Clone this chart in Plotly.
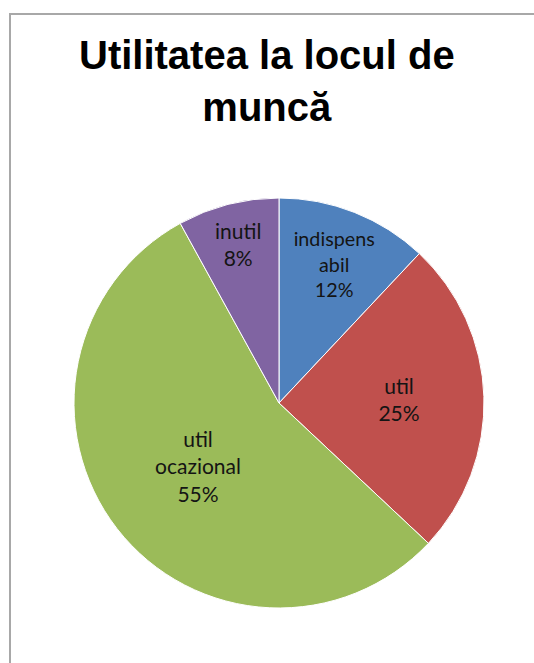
import plotly.graph_objects as go

labels = ["indispensabil", "util", "util ocazional", "inutil"]
label_text = ["indispens<br>abil", "util", "util<br>ocazional", "inutil"]
values = [12, 25, 55, 8]
colors = ["#4F81BD", "#C0504D", "#9BBB59", "#8064A2"]
title_text = "<b>Utilitatea la locul de<br>muncă</b>"

W, H = 534, 663
cx, cy, R = 279, 403, 205

fig = go.Figure(go.Pie(
    labels=labels,
    values=values,
    customdata=label_text,
    texttemplate="%{customdata}<br>%{percent:.0%}",
    textposition="inside",
    insidetextorientation="horizontal",
    textfont=dict(family="Lato, Carlito, sans-serif", size=21, color="#141414"),
    marker=dict(colors=colors, line=dict(color="#ffffff", width=1)),
    sort=False,
    direction="clockwise",
    rotation=0,
    showlegend=False,
    hoverinfo="label+percent",
    domain=dict(x=[(cx - R) / W, (cx + R) / W], y=[(H - cy - R) / H, (H - cy + R) / H]),
))

fig.update_layout(
    width=W, height=H,
    margin=dict(l=0, r=0, t=0, b=0),
    paper_bgcolor="white",
    annotations=[
        dict(text=title_text, xref="paper", yref="paper", x=0.5, xanchor="center",
             y=1 - 31 / H, yanchor="top", showarrow=False,
             font=dict(family="Liberation Sans, Arial, sans-serif", size=40, color="#000000")),
    ],
    shapes=[
        dict(type="rect", xref="paper", yref="paper",
             x0=10 / W, x1=1.05, y0=-0.05, y1=1 - 14 / H,
             line=dict(color="#a8a8a8", width=2), fillcolor="rgba(0,0,0,0)", layer="below"),
    ],
)

fig.write_html("out.html", config={"displayModeBar": False},
               post_script="document.body.style.margin='0';document.body.style.overflow='hidden';")
